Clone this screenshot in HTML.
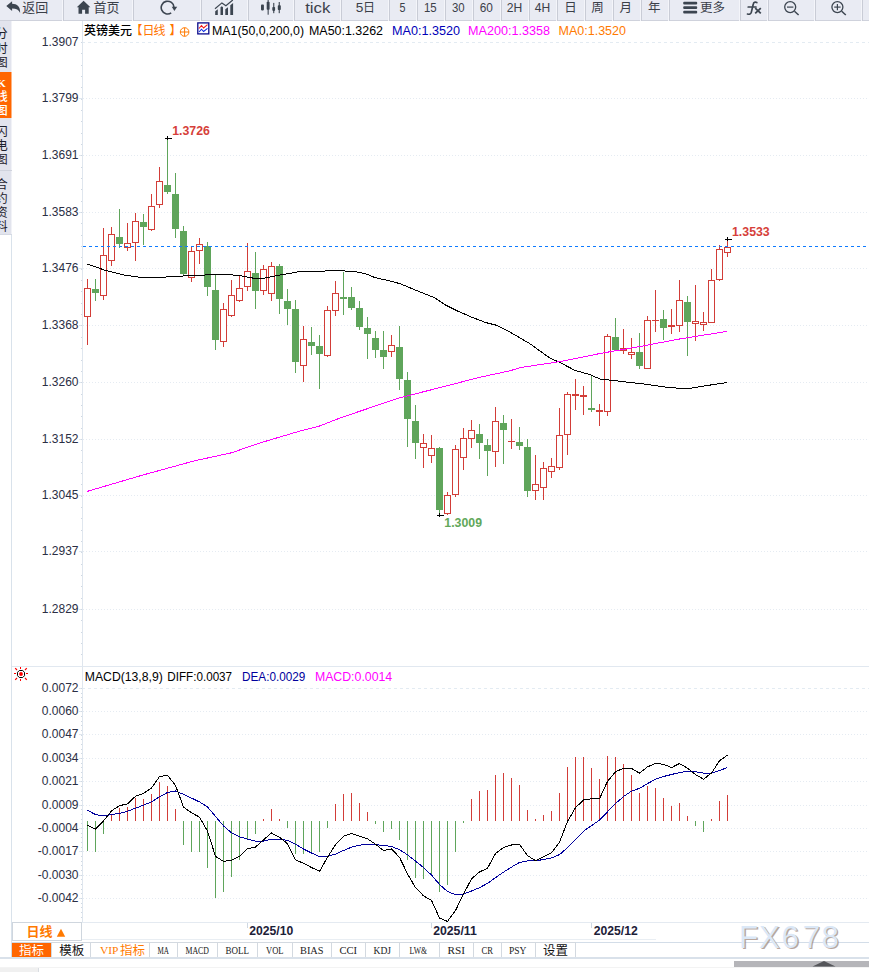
<!DOCTYPE html>
<html lang="zh"><head><meta charset="utf-8"><title>GBPUSD</title>
<style>
html,body{margin:0;padding:0;background:#fff;}
body{width:869px;height:972px;overflow:hidden;font-family:"Liberation Sans",sans-serif;}
svg{display:block;}
text{white-space:pre;}
</style></head><body>
<svg width="869" height="972" viewBox="0 0 869 972">
<rect x="0" y="0" width="869" height="972" fill="#fff"/>
<rect x="0" y="0" width="869" height="21" fill="#e9ebf3"/>
<rect x="0" y="20" width="869" height="1" fill="#cfd2dc"/>
<rect x="62" y="0" width="1" height="21" fill="#f4f5fa"/>
<rect x="63" y="0" width="1" height="21" fill="#c9ccd6"/>
<rect x="132" y="0" width="1" height="21" fill="#f4f5fa"/>
<rect x="133" y="0" width="1" height="21" fill="#c9ccd6"/>
<rect x="200" y="0" width="1" height="21" fill="#f4f5fa"/>
<rect x="201" y="0" width="1" height="21" fill="#c9ccd6"/>
<rect x="247" y="0" width="1" height="21" fill="#f4f5fa"/>
<rect x="248" y="0" width="1" height="21" fill="#c9ccd6"/>
<rect x="293" y="0" width="1" height="21" fill="#f4f5fa"/>
<rect x="294" y="0" width="1" height="21" fill="#c9ccd6"/>
<rect x="340" y="0" width="1" height="21" fill="#f4f5fa"/>
<rect x="341" y="0" width="1" height="21" fill="#c9ccd6"/>
<rect x="388" y="0" width="1" height="21" fill="#f4f5fa"/>
<rect x="389" y="0" width="1" height="21" fill="#c9ccd6"/>
<rect x="416" y="0" width="1" height="21" fill="#f4f5fa"/>
<rect x="417" y="0" width="1" height="21" fill="#c9ccd6"/>
<rect x="444" y="0" width="1" height="21" fill="#f4f5fa"/>
<rect x="445" y="0" width="1" height="21" fill="#c9ccd6"/>
<rect x="472" y="0" width="1" height="21" fill="#f4f5fa"/>
<rect x="473" y="0" width="1" height="21" fill="#c9ccd6"/>
<rect x="500" y="0" width="1" height="21" fill="#f4f5fa"/>
<rect x="501" y="0" width="1" height="21" fill="#c9ccd6"/>
<rect x="528" y="0" width="1" height="21" fill="#f4f5fa"/>
<rect x="529" y="0" width="1" height="21" fill="#c9ccd6"/>
<rect x="556" y="0" width="1" height="21" fill="#f4f5fa"/>
<rect x="557" y="0" width="1" height="21" fill="#c9ccd6"/>
<rect x="584" y="0" width="1" height="21" fill="#f4f5fa"/>
<rect x="585" y="0" width="1" height="21" fill="#c9ccd6"/>
<rect x="612" y="0" width="1" height="21" fill="#f4f5fa"/>
<rect x="613" y="0" width="1" height="21" fill="#c9ccd6"/>
<rect x="640" y="0" width="1" height="21" fill="#f4f5fa"/>
<rect x="641" y="0" width="1" height="21" fill="#c9ccd6"/>
<rect x="668" y="0" width="1" height="21" fill="#f4f5fa"/>
<rect x="669" y="0" width="1" height="21" fill="#c9ccd6"/>
<rect x="739" y="0" width="1" height="21" fill="#f4f5fa"/>
<rect x="740" y="0" width="1" height="21" fill="#c9ccd6"/>
<rect x="767" y="0" width="1" height="21" fill="#f4f5fa"/>
<rect x="768" y="0" width="1" height="21" fill="#c9ccd6"/>
<rect x="814" y="0" width="1" height="21" fill="#f4f5fa"/>
<rect x="815" y="0" width="1" height="21" fill="#c9ccd6"/>
<rect x="861" y="0" width="1" height="21" fill="#f4f5fa"/>
<rect x="862" y="0" width="1" height="21" fill="#c9ccd6"/>
<path transform="translate(6.3 1.2)" d="M0,4.9 L5.8,0 L5.8,2.6 C10.8,2.6 14.2,5.5 13.8,11.7 C12.6,8.6 10,7.2 5.8,7.2 L5.8,9.7 Z" fill="#3c4550"/>
<text x="22.20" y="12.14" font-family="'Liberation Sans', 'Noto Sans CJK SC', sans-serif" font-size="13" fill="#3b4049" text-anchor="start">返回</text>
<path d="M83.6,0.8 L90.4,7.2 L88.7,7.2 L88.7,13.7 L85.1,13.7 L85.1,9.8 L82.1,9.8 L82.1,13.7 L78.5,13.7 L78.5,7.2 L76.8,7.2 Z" fill="#3c4550"/>
<text x="93.60" y="12.14" font-family="'Liberation Sans', 'Noto Sans CJK SC', sans-serif" font-size="13" fill="#3b4049" text-anchor="start">首页</text>
<path d="M174.0,7.2 A6.4,6.4 0 1 0 171.2,12.9" fill="none" stroke="#3c4550" stroke-width="1.6"/>
<path d="M171.7,6.8 L177.2,6.8 L174.4,11 Z" fill="#3c4550"/>
<path d="M215.2,15 V11.2 L217.8,9.2 V15 Z M220.5,15 V7.2 L221.8,6.2 L223,7.2 V15 Z M225.3,15 V9.2 L228,7.2 V15 Z M230.3,15 V5.2 L233.1,3 V15 Z" fill="#3c4550"/>
<path d="M215,8.7 L221.9,2.9 L225.9,5.8 L232.8,0" fill="none" stroke="#3c4550" stroke-width="1.2"/>
<g fill="#3c4550"><rect x="261" y="4.6" width="2.9" height="5.8" rx="0.8"/><rect x="266.7" y="1.7" width="2.9" height="8.1" rx="0.8"/><rect x="267.6" y="0" width="1.1" height="14.7"/><rect x="272.3" y="6.9" width="2.8" height="4" rx="0.8"/><rect x="273.2" y="2.9" width="1.1" height="10.3"/><rect x="277.8" y="5.2" width="3" height="4.9" rx="0.8"/><rect x="278.7" y="2" width="1.1" height="11.2"/></g>
<text x="305.20" y="12.60" font-family="'Liberation Sans', sans-serif" font-size="14.5" fill="#3b4049" text-anchor="start" font-weight="normal" textLength="25.3" lengthAdjust="spacingAndGlyphs" >tick</text>
<text x="355.80" y="12.20" font-family="'Liberation Sans', sans-serif" font-size="13" fill="#3b4049" text-anchor="start" font-weight="normal" textLength="7.6" lengthAdjust="spacingAndGlyphs" >5</text>
<text x="363.00" y="11.76" font-family="'Liberation Sans', 'Noto Sans CJK SC', sans-serif" font-size="12" fill="#3b4049" text-anchor="start">日</text>
<text x="399.40" y="12.20" font-family="'Liberation Sans', sans-serif" font-size="13" fill="#3b4049" text-anchor="start" font-weight="normal" textLength="6.0" lengthAdjust="spacingAndGlyphs" >5</text>
<text x="424.00" y="12.20" font-family="'Liberation Sans', sans-serif" font-size="13" fill="#3b4049" text-anchor="start" font-weight="normal" textLength="12.7" lengthAdjust="spacingAndGlyphs" >15</text>
<text x="451.90" y="12.20" font-family="'Liberation Sans', sans-serif" font-size="13" fill="#3b4049" text-anchor="start" font-weight="normal" textLength="12.7" lengthAdjust="spacingAndGlyphs" >30</text>
<text x="479.70" y="12.20" font-family="'Liberation Sans', sans-serif" font-size="13" fill="#3b4049" text-anchor="start" font-weight="normal" textLength="13.2" lengthAdjust="spacingAndGlyphs" >60</text>
<text x="506.80" y="12.20" font-family="'Liberation Sans', sans-serif" font-size="13" fill="#3b4049" text-anchor="start" font-weight="normal" textLength="15.5" lengthAdjust="spacingAndGlyphs" >2H</text>
<text x="534.70" y="12.20" font-family="'Liberation Sans', sans-serif" font-size="13" fill="#3b4049" text-anchor="start" font-weight="normal" textLength="15.4" lengthAdjust="spacingAndGlyphs" >4H</text>
<text x="564.20" y="12.20" font-family="'Liberation Sans', 'Noto Sans CJK SC', sans-serif" font-size="12.5" fill="#3b4049" text-anchor="start">日</text>
<text x="591.20" y="12.20" font-family="'Liberation Sans', 'Noto Sans CJK SC', sans-serif" font-size="12.5" fill="#3b4049" text-anchor="start">周</text>
<text x="619.60" y="12.20" font-family="'Liberation Sans', 'Noto Sans CJK SC', sans-serif" font-size="12.5" fill="#3b4049" text-anchor="start">月</text>
<text x="648.00" y="12.20" font-family="'Liberation Sans', 'Noto Sans CJK SC', sans-serif" font-size="12.5" fill="#3b4049" text-anchor="start">年</text>
<g fill="#3c4550"><rect x="683.2" y="1.7" width="14" height="2.7" rx="1"/><rect x="683.2" y="6.2" width="14" height="2.7" rx="1"/><rect x="683.2" y="10.7" width="14" height="2.7" rx="1"/></g>
<text x="700.00" y="12.00" font-family="'Liberation Sans', 'Noto Sans CJK SC', sans-serif" font-size="12.5" fill="#3b4049" text-anchor="start">更多</text>
<path d="M756.8,2.5 C755.2,1.7 753.7,2.1 753.3,4 L751.3,12.4 C750.9,14 749.5,14.6 747.5,14 M748.2,7 H756" stroke="#3c4550" stroke-width="1.7" fill="none" stroke-linecap="round"/>
<path d="M755.2,8.2 L760.8,13.3 M760.8,8.2 L755.2,13.3" stroke="#3c4550" stroke-width="1.8" fill="none"/>
<circle cx="790.2" cy="7.1" r="5.5" fill="none" stroke="#3c4550" stroke-width="1.3"/>
<path d="M794.5,11.3 L798.6,15" stroke="#3c4550" stroke-width="1.5" fill="none"/>
<path d="M787.0,7.1 H793.4" stroke="#3c4550" stroke-width="1.2" fill="none"/>
<circle cx="837.4" cy="7.1" r="5.5" fill="none" stroke="#3c4550" stroke-width="1.3"/>
<path d="M841.7,11.3 L845.8,15" stroke="#3c4550" stroke-width="1.5" fill="none"/>
<path d="M834.2,7.1 H840.6" stroke="#3c4550" stroke-width="1.2" fill="none"/>
<path d="M837.4,3.9 V10.3" stroke="#3c4550" stroke-width="1.2" fill="none"/>
<rect x="0" y="21" width="11" height="214" fill="#e2e4ed"/><rect x="11" y="21" width="1" height="214" fill="#f1f2f7"/>
<rect x="0" y="72" width="11" height="46" fill="#ff6600"/><rect x="11" y="72" width="1" height="46" fill="#ffb380"/>
<rect x="0" y="170" width="12" height="1" fill="#d0d3dd"/>
<rect x="0" y="234" width="12" height="1" fill="#d5d9e3"/>
<clipPath id="sbc"><rect x="0" y="21" width="12" height="214"/></clipPath>
<g fill="#1e222c" clip-path="url(#sbc)" font-family="'Liberation Sans', 'Noto Sans CJK SC', sans-serif" font-size="12.5"><text x="-4.80" y="38.00">分</text><text x="-4.80" y="52.60">时</text><text x="-4.80" y="67.20">图</text></g>
<text x="-2.80" y="87.00" font-family="'Liberation Serif', sans-serif" font-size="11" fill="#fff" text-anchor="start" font-weight="bold" clip-path="url(#sbc)">K</text>
<g fill="#fff" clip-path="url(#sbc)" font-family="'Liberation Sans', 'Noto Sans CJK SC', sans-serif" font-size="12.5" font-weight="500"><text x="-4.80" y="101.00">线</text><text x="-4.80" y="114.50">图</text></g>
<g fill="#1e222c" clip-path="url(#sbc)" font-family="'Liberation Sans', 'Noto Sans CJK SC', sans-serif" font-size="12.5"><text x="-4.80" y="136.00">闪</text><text x="-4.80" y="150.20">电</text><text x="-4.80" y="164.40">图</text></g>
<g fill="#1e222c" clip-path="url(#sbc)" font-family="'Liberation Sans', 'Noto Sans CJK SC', sans-serif" font-size="12.5"><text x="-4.80" y="188.50">合</text><text x="-4.80" y="202.50">约</text><text x="-4.80" y="216.50">资</text><text x="-4.80" y="230.50">料</text></g>
<g shape-rendering="crispEdges">
<rect x="11" y="235" width="1" height="723" fill="#d9e2eb"/>
<rect x="82" y="21" width="1" height="902" fill="#dfe6ee"/>
<rect x="12" y="666" width="857" height="1" fill="#e1e8f0"/>
<rect x="12" y="922" width="857" height="1" fill="#e4eaf1"/>
<rect x="82" y="942" width="787" height="1" fill="#d3dde8"/>
<rect x="82" y="939" width="574" height="1" fill="#e9eef3"/>
<rect x="0" y="957" width="869" height="2" fill="#d9e1ea"/>
<rect x="0" y="967" width="869" height="1" fill="#dde3ea"/>
</g>
<g shape-rendering="crispEdges" fill="none">
<path d="M83,42.5 H869" stroke="#e3ebf2" stroke-dasharray="3 3" stroke-dashoffset="1"/>
<path d="M83,98.5 H867" stroke="#e5ebf2" stroke-dasharray="1 2"/>
<path d="M79,98.5 H82" stroke="#dfe6ee"/>
<path d="M83,155.5 H867" stroke="#e5ebf2" stroke-dasharray="1 2"/>
<path d="M79,155.5 H82" stroke="#dfe6ee"/>
<path d="M83,212.5 H867" stroke="#e5ebf2" stroke-dasharray="1 2"/>
<path d="M79,212.5 H82" stroke="#dfe6ee"/>
<path d="M83,268.5 H867" stroke="#e5ebf2" stroke-dasharray="1 2"/>
<path d="M79,268.5 H82" stroke="#dfe6ee"/>
<path d="M83,325.5 H867" stroke="#e5ebf2" stroke-dasharray="1 2"/>
<path d="M79,325.5 H82" stroke="#dfe6ee"/>
<path d="M83,382.5 H867" stroke="#e5ebf2" stroke-dasharray="1 2"/>
<path d="M79,382.5 H82" stroke="#dfe6ee"/>
<path d="M83,439.5 H867" stroke="#e5ebf2" stroke-dasharray="1 2"/>
<path d="M79,439.5 H82" stroke="#dfe6ee"/>
<path d="M83,495.5 H867" stroke="#e5ebf2" stroke-dasharray="1 2"/>
<path d="M79,495.5 H82" stroke="#dfe6ee"/>
<path d="M83,551.5 H867" stroke="#e5ebf2" stroke-dasharray="1 2"/>
<path d="M79,551.5 H82" stroke="#dfe6ee"/>
<path d="M83,609.5 H867" stroke="#e5ebf2" stroke-dasharray="1 2"/>
<path d="M79,609.5 H82" stroke="#dfe6ee"/>
<rect x="81" y="42" width="1" height="1" fill="#cfd8e2"/>
<rect x="81" y="53" width="1" height="1" fill="#cfd8e2"/>
<rect x="81" y="65" width="1" height="1" fill="#cfd8e2"/>
<rect x="81" y="76" width="1" height="1" fill="#cfd8e2"/>
<rect x="81" y="87" width="1" height="1" fill="#cfd8e2"/>
<rect x="81" y="99" width="1" height="1" fill="#cfd8e2"/>
<rect x="81" y="110" width="1" height="1" fill="#cfd8e2"/>
<rect x="81" y="121" width="1" height="1" fill="#cfd8e2"/>
<rect x="81" y="133" width="1" height="1" fill="#cfd8e2"/>
<rect x="81" y="144" width="1" height="1" fill="#cfd8e2"/>
<rect x="81" y="155" width="1" height="1" fill="#cfd8e2"/>
<rect x="81" y="167" width="1" height="1" fill="#cfd8e2"/>
<rect x="81" y="178" width="1" height="1" fill="#cfd8e2"/>
<rect x="81" y="189" width="1" height="1" fill="#cfd8e2"/>
<rect x="81" y="201" width="1" height="1" fill="#cfd8e2"/>
<rect x="81" y="212" width="1" height="1" fill="#cfd8e2"/>
<rect x="81" y="223" width="1" height="1" fill="#cfd8e2"/>
<rect x="81" y="235" width="1" height="1" fill="#cfd8e2"/>
<rect x="81" y="246" width="1" height="1" fill="#cfd8e2"/>
<rect x="81" y="257" width="1" height="1" fill="#cfd8e2"/>
<rect x="81" y="269" width="1" height="1" fill="#cfd8e2"/>
<rect x="81" y="280" width="1" height="1" fill="#cfd8e2"/>
<rect x="81" y="291" width="1" height="1" fill="#cfd8e2"/>
<rect x="81" y="303" width="1" height="1" fill="#cfd8e2"/>
<rect x="81" y="314" width="1" height="1" fill="#cfd8e2"/>
<rect x="81" y="325" width="1" height="1" fill="#cfd8e2"/>
<rect x="81" y="337" width="1" height="1" fill="#cfd8e2"/>
<rect x="81" y="348" width="1" height="1" fill="#cfd8e2"/>
<rect x="81" y="360" width="1" height="1" fill="#cfd8e2"/>
<rect x="81" y="371" width="1" height="1" fill="#cfd8e2"/>
<rect x="81" y="382" width="1" height="1" fill="#cfd8e2"/>
<rect x="81" y="394" width="1" height="1" fill="#cfd8e2"/>
<rect x="81" y="405" width="1" height="1" fill="#cfd8e2"/>
<rect x="81" y="416" width="1" height="1" fill="#cfd8e2"/>
<rect x="81" y="428" width="1" height="1" fill="#cfd8e2"/>
<rect x="81" y="439" width="1" height="1" fill="#cfd8e2"/>
<rect x="81" y="450" width="1" height="1" fill="#cfd8e2"/>
<rect x="81" y="462" width="1" height="1" fill="#cfd8e2"/>
<rect x="81" y="473" width="1" height="1" fill="#cfd8e2"/>
<rect x="81" y="484" width="1" height="1" fill="#cfd8e2"/>
<rect x="81" y="496" width="1" height="1" fill="#cfd8e2"/>
<rect x="81" y="507" width="1" height="1" fill="#cfd8e2"/>
<rect x="81" y="518" width="1" height="1" fill="#cfd8e2"/>
<rect x="81" y="530" width="1" height="1" fill="#cfd8e2"/>
<rect x="81" y="541" width="1" height="1" fill="#cfd8e2"/>
<rect x="81" y="552" width="1" height="1" fill="#cfd8e2"/>
<rect x="81" y="564" width="1" height="1" fill="#cfd8e2"/>
<rect x="81" y="575" width="1" height="1" fill="#cfd8e2"/>
<rect x="81" y="586" width="1" height="1" fill="#cfd8e2"/>
<rect x="81" y="598" width="1" height="1" fill="#cfd8e2"/>
<rect x="81" y="609" width="1" height="1" fill="#cfd8e2"/>
<rect x="81" y="620" width="1" height="1" fill="#cfd8e2"/>
<rect x="81" y="632" width="1" height="1" fill="#cfd8e2"/>
<rect x="81" y="643" width="1" height="1" fill="#cfd8e2"/>
<rect x="81" y="654" width="1" height="1" fill="#cfd8e2"/>
</g>
<text x="78.50" y="45.90" font-family="'Liberation Sans', sans-serif" font-size="12" fill="#2a2e44" text-anchor="end" font-weight="normal" >1.3907</text>
<text x="78.50" y="101.90" font-family="'Liberation Sans', sans-serif" font-size="12" fill="#2a2e44" text-anchor="end" font-weight="normal" >1.3799</text>
<text x="78.50" y="158.90" font-family="'Liberation Sans', sans-serif" font-size="12" fill="#2a2e44" text-anchor="end" font-weight="normal" >1.3691</text>
<text x="78.50" y="215.90" font-family="'Liberation Sans', sans-serif" font-size="12" fill="#2a2e44" text-anchor="end" font-weight="normal" >1.3583</text>
<text x="78.50" y="271.90" font-family="'Liberation Sans', sans-serif" font-size="12" fill="#2a2e44" text-anchor="end" font-weight="normal" >1.3476</text>
<text x="78.50" y="328.90" font-family="'Liberation Sans', sans-serif" font-size="12" fill="#2a2e44" text-anchor="end" font-weight="normal" >1.3368</text>
<text x="78.50" y="385.90" font-family="'Liberation Sans', sans-serif" font-size="12" fill="#2a2e44" text-anchor="end" font-weight="normal" >1.3260</text>
<text x="78.50" y="442.90" font-family="'Liberation Sans', sans-serif" font-size="12" fill="#2a2e44" text-anchor="end" font-weight="normal" >1.3152</text>
<text x="78.50" y="498.90" font-family="'Liberation Sans', sans-serif" font-size="12" fill="#2a2e44" text-anchor="end" font-weight="normal" >1.3045</text>
<text x="78.50" y="554.90" font-family="'Liberation Sans', sans-serif" font-size="12" fill="#2a2e44" text-anchor="end" font-weight="normal" >1.2937</text>
<text x="78.50" y="612.90" font-family="'Liberation Sans', sans-serif" font-size="12" fill="#2a2e44" text-anchor="end" font-weight="normal" >1.2829</text>
<g shape-rendering="crispEdges" fill="none">
<path d="M83,688.5 H869" stroke="#e3ebf2" stroke-dasharray="3 3" stroke-dashoffset="1"/>
<path d="M79,688.5 H82" stroke="#dfe6ee"/>
<path d="M83,711.5 H867" stroke="#e5ebf2" stroke-dasharray="1 2"/>
<path d="M79,711.5 H82" stroke="#dfe6ee"/>
<path d="M83,734.5 H867" stroke="#e5ebf2" stroke-dasharray="1 2"/>
<path d="M79,734.5 H82" stroke="#dfe6ee"/>
<path d="M83,758.5 H867" stroke="#e5ebf2" stroke-dasharray="1 2"/>
<path d="M79,758.5 H82" stroke="#dfe6ee"/>
<path d="M83,781.5 H867" stroke="#e5ebf2" stroke-dasharray="1 2"/>
<path d="M79,781.5 H82" stroke="#dfe6ee"/>
<path d="M83,805.5 H867" stroke="#e5ebf2" stroke-dasharray="1 2"/>
<path d="M79,805.5 H82" stroke="#dfe6ee"/>
<path d="M83,828.5 H867" stroke="#e5ebf2" stroke-dasharray="1 2"/>
<path d="M79,828.5 H82" stroke="#dfe6ee"/>
<path d="M83,851.5 H867" stroke="#e5ebf2" stroke-dasharray="1 2"/>
<path d="M79,851.5 H82" stroke="#dfe6ee"/>
<path d="M83,875.5 H867" stroke="#e5ebf2" stroke-dasharray="1 2"/>
<path d="M79,875.5 H82" stroke="#dfe6ee"/>
<path d="M83,898.5 H867" stroke="#e5ebf2" stroke-dasharray="1 2"/>
<path d="M79,898.5 H82" stroke="#dfe6ee"/>
<rect x="81" y="688" width="1" height="1" fill="#cfd8e2"/>
<rect x="81" y="693" width="1" height="1" fill="#cfd8e2"/>
<rect x="81" y="697" width="1" height="1" fill="#cfd8e2"/>
<rect x="81" y="702" width="1" height="1" fill="#cfd8e2"/>
<rect x="81" y="707" width="1" height="1" fill="#cfd8e2"/>
<rect x="81" y="711" width="1" height="1" fill="#cfd8e2"/>
<rect x="81" y="716" width="1" height="1" fill="#cfd8e2"/>
<rect x="81" y="721" width="1" height="1" fill="#cfd8e2"/>
<rect x="81" y="725" width="1" height="1" fill="#cfd8e2"/>
<rect x="81" y="730" width="1" height="1" fill="#cfd8e2"/>
<rect x="81" y="735" width="1" height="1" fill="#cfd8e2"/>
<rect x="81" y="739" width="1" height="1" fill="#cfd8e2"/>
<rect x="81" y="744" width="1" height="1" fill="#cfd8e2"/>
<rect x="81" y="749" width="1" height="1" fill="#cfd8e2"/>
<rect x="81" y="753" width="1" height="1" fill="#cfd8e2"/>
<rect x="81" y="758" width="1" height="1" fill="#cfd8e2"/>
<rect x="81" y="763" width="1" height="1" fill="#cfd8e2"/>
<rect x="81" y="767" width="1" height="1" fill="#cfd8e2"/>
<rect x="81" y="772" width="1" height="1" fill="#cfd8e2"/>
<rect x="81" y="777" width="1" height="1" fill="#cfd8e2"/>
<rect x="81" y="781" width="1" height="1" fill="#cfd8e2"/>
<rect x="81" y="786" width="1" height="1" fill="#cfd8e2"/>
<rect x="81" y="791" width="1" height="1" fill="#cfd8e2"/>
<rect x="81" y="795" width="1" height="1" fill="#cfd8e2"/>
<rect x="81" y="800" width="1" height="1" fill="#cfd8e2"/>
<rect x="81" y="805" width="1" height="1" fill="#cfd8e2"/>
<rect x="81" y="809" width="1" height="1" fill="#cfd8e2"/>
<rect x="81" y="814" width="1" height="1" fill="#cfd8e2"/>
<rect x="81" y="819" width="1" height="1" fill="#cfd8e2"/>
<rect x="81" y="823" width="1" height="1" fill="#cfd8e2"/>
<rect x="81" y="828" width="1" height="1" fill="#cfd8e2"/>
<rect x="81" y="833" width="1" height="1" fill="#cfd8e2"/>
<rect x="81" y="837" width="1" height="1" fill="#cfd8e2"/>
<rect x="81" y="842" width="1" height="1" fill="#cfd8e2"/>
<rect x="81" y="847" width="1" height="1" fill="#cfd8e2"/>
<rect x="81" y="851" width="1" height="1" fill="#cfd8e2"/>
<rect x="81" y="856" width="1" height="1" fill="#cfd8e2"/>
<rect x="81" y="861" width="1" height="1" fill="#cfd8e2"/>
<rect x="81" y="865" width="1" height="1" fill="#cfd8e2"/>
<rect x="81" y="870" width="1" height="1" fill="#cfd8e2"/>
<rect x="81" y="875" width="1" height="1" fill="#cfd8e2"/>
<rect x="81" y="879" width="1" height="1" fill="#cfd8e2"/>
<rect x="81" y="884" width="1" height="1" fill="#cfd8e2"/>
<rect x="81" y="889" width="1" height="1" fill="#cfd8e2"/>
<rect x="81" y="893" width="1" height="1" fill="#cfd8e2"/>
<rect x="81" y="898" width="1" height="1" fill="#cfd8e2"/>
<rect x="81" y="903" width="1" height="1" fill="#cfd8e2"/>
<rect x="81" y="907" width="1" height="1" fill="#cfd8e2"/>
<rect x="81" y="912" width="1" height="1" fill="#cfd8e2"/>
<rect x="81" y="917" width="1" height="1" fill="#cfd8e2"/>
</g>
<text x="78.50" y="691.90" font-family="'Liberation Sans', sans-serif" font-size="12" fill="#2a2e44" text-anchor="end" font-weight="normal" >0.0072</text>
<text x="78.50" y="714.90" font-family="'Liberation Sans', sans-serif" font-size="12" fill="#2a2e44" text-anchor="end" font-weight="normal" >0.0060</text>
<text x="78.50" y="737.90" font-family="'Liberation Sans', sans-serif" font-size="12" fill="#2a2e44" text-anchor="end" font-weight="normal" >0.0047</text>
<text x="78.50" y="761.90" font-family="'Liberation Sans', sans-serif" font-size="12" fill="#2a2e44" text-anchor="end" font-weight="normal" >0.0034</text>
<text x="78.50" y="784.90" font-family="'Liberation Sans', sans-serif" font-size="12" fill="#2a2e44" text-anchor="end" font-weight="normal" >0.0021</text>
<text x="78.50" y="808.90" font-family="'Liberation Sans', sans-serif" font-size="12" fill="#2a2e44" text-anchor="end" font-weight="normal" >0.0009</text>
<text x="78.50" y="831.90" font-family="'Liberation Sans', sans-serif" font-size="12" fill="#2a2e44" text-anchor="end" font-weight="normal" >-0.0004</text>
<text x="78.50" y="854.90" font-family="'Liberation Sans', sans-serif" font-size="12" fill="#2a2e44" text-anchor="end" font-weight="normal" >-0.0017</text>
<text x="78.50" y="878.90" font-family="'Liberation Sans', sans-serif" font-size="12" fill="#2a2e44" text-anchor="end" font-weight="normal" >-0.0030</text>
<text x="78.50" y="901.90" font-family="'Liberation Sans', sans-serif" font-size="12" fill="#2a2e44" text-anchor="end" font-weight="normal" >-0.0042</text>
<g shape-rendering="crispEdges">
<rect x="87" y="279" width="1" height="9" fill="#d23d38"/>
<rect x="87" y="317" width="1" height="28" fill="#d23d38"/>
<rect x="84.5" y="288.5" width="6" height="28" fill="#fff" stroke="#d23d38" stroke-width="1"/>
<rect x="95" y="279" width="1" height="22" fill="#5fa55b"/>
<rect x="92" y="289" width="7" height="4" fill="#5fa55b"/>
<rect x="103" y="228" width="1" height="27" fill="#d23d38"/>
<rect x="103" y="296" width="1" height="4" fill="#d23d38"/>
<rect x="100.5" y="255.5" width="6" height="40" fill="#fff" stroke="#d23d38" stroke-width="1"/>
<rect x="111" y="227" width="1" height="7" fill="#d23d38"/>
<rect x="111" y="261" width="1" height="5" fill="#d23d38"/>
<rect x="108.5" y="234.5" width="6" height="26" fill="#fff" stroke="#d23d38" stroke-width="1"/>
<rect x="119" y="209" width="1" height="39" fill="#5fa55b"/>
<rect x="116" y="237" width="7" height="7" fill="#5fa55b"/>
<rect x="127" y="223" width="1" height="20" fill="#d23d38"/>
<rect x="127" y="248" width="1" height="3" fill="#d23d38"/>
<rect x="124.5" y="243.5" width="6" height="4" fill="#fff" stroke="#d23d38" stroke-width="1"/>
<rect x="135" y="213" width="1" height="8" fill="#d23d38"/>
<rect x="135" y="243" width="1" height="18" fill="#d23d38"/>
<rect x="132.5" y="221.5" width="6" height="21" fill="#fff" stroke="#d23d38" stroke-width="1"/>
<rect x="143" y="214" width="1" height="31" fill="#5fa55b"/>
<rect x="140" y="222" width="7" height="5" fill="#5fa55b"/>
<rect x="151" y="194" width="1" height="12" fill="#d23d38"/>
<rect x="151" y="230" width="1" height="1" fill="#d23d38"/>
<rect x="148.5" y="206.5" width="6" height="23" fill="#fff" stroke="#d23d38" stroke-width="1"/>
<rect x="159" y="167" width="1" height="14" fill="#d23d38"/>
<rect x="159" y="205" width="1" height="3" fill="#d23d38"/>
<rect x="156.5" y="181.5" width="6" height="23" fill="#fff" stroke="#d23d38" stroke-width="1"/>
<rect x="167" y="138" width="1" height="56" fill="#5fa55b"/>
<rect x="164" y="185" width="7" height="7" fill="#5fa55b"/>
<rect x="175" y="173" width="1" height="65" fill="#5fa55b"/>
<rect x="172" y="194" width="7" height="35" fill="#5fa55b"/>
<rect x="183" y="226" width="1" height="50" fill="#5fa55b"/>
<rect x="180" y="231" width="7" height="43" fill="#5fa55b"/>
<rect x="191" y="247" width="1" height="4" fill="#d23d38"/>
<rect x="191" y="278" width="1" height="4" fill="#d23d38"/>
<rect x="188.5" y="251.5" width="6" height="26" fill="#fff" stroke="#d23d38" stroke-width="1"/>
<rect x="199" y="238" width="1" height="6" fill="#d23d38"/>
<rect x="199" y="251" width="1" height="13" fill="#d23d38"/>
<rect x="196.5" y="244.5" width="6" height="6" fill="#fff" stroke="#d23d38" stroke-width="1"/>
<rect x="207" y="242" width="1" height="54" fill="#5fa55b"/>
<rect x="204" y="246" width="7" height="41" fill="#5fa55b"/>
<rect x="215" y="275" width="1" height="75" fill="#5fa55b"/>
<rect x="212" y="290" width="7" height="50" fill="#5fa55b"/>
<rect x="223" y="303" width="1" height="6" fill="#d23d38"/>
<rect x="223" y="342" width="1" height="5" fill="#d23d38"/>
<rect x="220.5" y="309.5" width="6" height="32" fill="#fff" stroke="#d23d38" stroke-width="1"/>
<rect x="231" y="280" width="1" height="15" fill="#d23d38"/>
<rect x="231" y="316" width="1" height="1" fill="#d23d38"/>
<rect x="228.5" y="295.5" width="6" height="20" fill="#fff" stroke="#d23d38" stroke-width="1"/>
<rect x="239" y="276" width="1" height="12" fill="#d23d38"/>
<rect x="239" y="301" width="1" height="1" fill="#d23d38"/>
<rect x="236.5" y="288.5" width="6" height="12" fill="#fff" stroke="#d23d38" stroke-width="1"/>
<rect x="247" y="243" width="1" height="28" fill="#d23d38"/>
<rect x="247" y="287" width="1" height="4" fill="#d23d38"/>
<rect x="244.5" y="271.5" width="6" height="15" fill="#fff" stroke="#d23d38" stroke-width="1"/>
<rect x="255" y="252" width="1" height="57" fill="#5fa55b"/>
<rect x="252" y="273" width="7" height="18" fill="#5fa55b"/>
<rect x="263" y="265" width="1" height="4" fill="#d23d38"/>
<rect x="263" y="291" width="1" height="4" fill="#d23d38"/>
<rect x="260.5" y="269.5" width="6" height="21" fill="#fff" stroke="#d23d38" stroke-width="1"/>
<rect x="271" y="262" width="1" height="4" fill="#d23d38"/>
<rect x="271" y="294" width="1" height="7" fill="#d23d38"/>
<rect x="268.5" y="266.5" width="6" height="27" fill="#fff" stroke="#d23d38" stroke-width="1"/>
<rect x="279" y="264" width="1" height="50" fill="#5fa55b"/>
<rect x="276" y="266" width="7" height="33" fill="#5fa55b"/>
<rect x="287" y="289" width="1" height="36" fill="#5fa55b"/>
<rect x="284" y="301" width="7" height="8" fill="#5fa55b"/>
<rect x="295" y="300" width="1" height="73" fill="#5fa55b"/>
<rect x="292" y="309" width="7" height="53" fill="#5fa55b"/>
<rect x="303" y="326" width="1" height="13" fill="#d23d38"/>
<rect x="303" y="366" width="1" height="16" fill="#d23d38"/>
<rect x="300.5" y="339.5" width="6" height="26" fill="#fff" stroke="#d23d38" stroke-width="1"/>
<rect x="311" y="327" width="1" height="28" fill="#5fa55b"/>
<rect x="308" y="342" width="7" height="4" fill="#5fa55b"/>
<rect x="319" y="335" width="1" height="54" fill="#5fa55b"/>
<rect x="316" y="346" width="7" height="8" fill="#5fa55b"/>
<rect x="327" y="306" width="1" height="4" fill="#d23d38"/>
<rect x="327" y="356" width="1" height="1" fill="#d23d38"/>
<rect x="324.5" y="310.5" width="6" height="45" fill="#fff" stroke="#d23d38" stroke-width="1"/>
<rect x="335" y="281" width="1" height="12" fill="#d23d38"/>
<rect x="335" y="311" width="1" height="5" fill="#d23d38"/>
<rect x="332.5" y="293.5" width="6" height="17" fill="#fff" stroke="#d23d38" stroke-width="1"/>
<rect x="343" y="272" width="1" height="43" fill="#5fa55b"/>
<rect x="340" y="297" width="7" height="2" fill="#5fa55b"/>
<rect x="351" y="287" width="1" height="23" fill="#5fa55b"/>
<rect x="348" y="297" width="7" height="11" fill="#5fa55b"/>
<rect x="359" y="301" width="1" height="29" fill="#5fa55b"/>
<rect x="356" y="308" width="7" height="19" fill="#5fa55b"/>
<rect x="367" y="317" width="1" height="42" fill="#5fa55b"/>
<rect x="364" y="328" width="7" height="6" fill="#5fa55b"/>
<rect x="375" y="331" width="1" height="27" fill="#5fa55b"/>
<rect x="372" y="338" width="7" height="12" fill="#5fa55b"/>
<rect x="383" y="331" width="1" height="38" fill="#5fa55b"/>
<rect x="380" y="350" width="7" height="7" fill="#5fa55b"/>
<rect x="391" y="335" width="1" height="10" fill="#d23d38"/>
<rect x="391" y="352" width="1" height="5" fill="#d23d38"/>
<rect x="388.5" y="345.5" width="6" height="6" fill="#fff" stroke="#d23d38" stroke-width="1"/>
<rect x="399" y="326" width="1" height="64" fill="#5fa55b"/>
<rect x="396" y="347" width="7" height="32" fill="#5fa55b"/>
<rect x="407" y="372" width="1" height="75" fill="#5fa55b"/>
<rect x="404" y="380" width="7" height="39" fill="#5fa55b"/>
<rect x="415" y="405" width="1" height="54" fill="#5fa55b"/>
<rect x="412" y="421" width="7" height="22" fill="#5fa55b"/>
<rect x="423" y="434" width="1" height="9" fill="#d23d38"/>
<rect x="423" y="448" width="1" height="20" fill="#d23d38"/>
<rect x="420.5" y="443.5" width="6" height="4" fill="#fff" stroke="#d23d38" stroke-width="1"/>
<rect x="431" y="435" width="1" height="13" fill="#d23d38"/>
<rect x="431" y="456" width="1" height="7" fill="#d23d38"/>
<rect x="428.5" y="448.5" width="6" height="7" fill="#fff" stroke="#d23d38" stroke-width="1"/>
<rect x="439" y="447" width="1" height="67" fill="#5fa55b"/>
<rect x="436" y="448" width="7" height="62" fill="#5fa55b"/>
<rect x="447" y="492" width="1" height="3" fill="#d23d38"/>
<rect x="447" y="514" width="1" height="1" fill="#d23d38"/>
<rect x="444.5" y="495.5" width="6" height="18" fill="#fff" stroke="#d23d38" stroke-width="1"/>
<rect x="455" y="445" width="1" height="4" fill="#d23d38"/>
<rect x="455" y="495" width="1" height="2" fill="#d23d38"/>
<rect x="452.5" y="449.5" width="6" height="45" fill="#fff" stroke="#d23d38" stroke-width="1"/>
<rect x="463" y="428" width="1" height="10" fill="#d23d38"/>
<rect x="463" y="458" width="1" height="12" fill="#d23d38"/>
<rect x="460.5" y="438.5" width="6" height="19" fill="#fff" stroke="#d23d38" stroke-width="1"/>
<rect x="471" y="420" width="1" height="10" fill="#d23d38"/>
<rect x="471" y="439" width="1" height="9" fill="#d23d38"/>
<rect x="468.5" y="430.5" width="6" height="8" fill="#fff" stroke="#d23d38" stroke-width="1"/>
<rect x="479" y="424" width="1" height="35" fill="#5fa55b"/>
<rect x="476" y="434" width="7" height="9" fill="#5fa55b"/>
<rect x="487" y="439" width="1" height="37" fill="#5fa55b"/>
<rect x="484" y="445" width="7" height="6" fill="#5fa55b"/>
<rect x="495" y="407" width="1" height="14" fill="#d23d38"/>
<rect x="495" y="452" width="1" height="15" fill="#d23d38"/>
<rect x="492.5" y="421.5" width="6" height="30" fill="#fff" stroke="#d23d38" stroke-width="1"/>
<rect x="503" y="415" width="1" height="49" fill="#5fa55b"/>
<rect x="500" y="423" width="7" height="7" fill="#5fa55b"/>
<rect x="511" y="419" width="1" height="30" fill="#d23d38"/>
<rect x="508" y="441" width="7" height="1" fill="#d23d38"/>
<rect x="519" y="427" width="1" height="23" fill="#5fa55b"/>
<rect x="516" y="442" width="7" height="4" fill="#5fa55b"/>
<rect x="527" y="439" width="1" height="58" fill="#5fa55b"/>
<rect x="524" y="447" width="7" height="44" fill="#5fa55b"/>
<rect x="535" y="455" width="1" height="29" fill="#d23d38"/>
<rect x="535" y="491" width="1" height="9" fill="#d23d38"/>
<rect x="532.5" y="484.5" width="6" height="6" fill="#fff" stroke="#d23d38" stroke-width="1"/>
<rect x="543" y="462" width="1" height="6" fill="#d23d38"/>
<rect x="543" y="488" width="1" height="12" fill="#d23d38"/>
<rect x="540.5" y="468.5" width="6" height="19" fill="#fff" stroke="#d23d38" stroke-width="1"/>
<rect x="551" y="458" width="1" height="8" fill="#d23d38"/>
<rect x="551" y="472" width="1" height="6" fill="#d23d38"/>
<rect x="548.5" y="466.5" width="6" height="5" fill="#fff" stroke="#d23d38" stroke-width="1"/>
<rect x="559" y="408" width="1" height="27" fill="#d23d38"/>
<rect x="559" y="468" width="1" height="2" fill="#d23d38"/>
<rect x="556.5" y="435.5" width="6" height="32" fill="#fff" stroke="#d23d38" stroke-width="1"/>
<rect x="567" y="392" width="1" height="2" fill="#d23d38"/>
<rect x="567" y="435" width="1" height="20" fill="#d23d38"/>
<rect x="564.5" y="394.5" width="6" height="40" fill="#fff" stroke="#d23d38" stroke-width="1"/>
<rect x="575" y="379" width="1" height="31" fill="#d23d38"/>
<rect x="572" y="394" width="7" height="2" fill="#d23d38"/>
<rect x="583" y="386" width="1" height="29" fill="#d23d38"/>
<rect x="580" y="395" width="7" height="2" fill="#d23d38"/>
<rect x="591" y="376" width="1" height="36" fill="#5fa55b"/>
<rect x="588" y="408" width="7" height="2" fill="#5fa55b"/>
<rect x="599" y="404" width="1" height="22" fill="#d23d38"/>
<rect x="596" y="410" width="7" height="2" fill="#d23d38"/>
<rect x="607" y="334" width="1" height="2" fill="#d23d38"/>
<rect x="607" y="412" width="1" height="4" fill="#d23d38"/>
<rect x="604.5" y="336.5" width="6" height="75" fill="#fff" stroke="#d23d38" stroke-width="1"/>
<rect x="615" y="318" width="1" height="32" fill="#5fa55b"/>
<rect x="612" y="337" width="7" height="13" fill="#5fa55b"/>
<rect x="623" y="329" width="1" height="19" fill="#d23d38"/>
<rect x="623" y="351" width="1" height="3" fill="#d23d38"/>
<rect x="620.5" y="348.5" width="6" height="2" fill="#fff" stroke="#d23d38" stroke-width="1"/>
<rect x="631" y="338" width="1" height="14" fill="#d23d38"/>
<rect x="631" y="355" width="1" height="4" fill="#d23d38"/>
<rect x="628.5" y="352.5" width="6" height="2" fill="#fff" stroke="#d23d38" stroke-width="1"/>
<rect x="639" y="333" width="1" height="36" fill="#5fa55b"/>
<rect x="636" y="352" width="7" height="14" fill="#5fa55b"/>
<rect x="647" y="316" width="1" height="4" fill="#d23d38"/>
<rect x="644.5" y="320.5" width="6" height="48" fill="#fff" stroke="#d23d38" stroke-width="1"/>
<rect x="655" y="290" width="1" height="42" fill="#d23d38"/>
<rect x="652" y="320" width="7" height="1" fill="#d23d38"/>
<rect x="663" y="310" width="1" height="30" fill="#5fa55b"/>
<rect x="660" y="319" width="7" height="9" fill="#5fa55b"/>
<rect x="671" y="309" width="1" height="25" fill="#d23d38"/>
<rect x="668" y="325" width="7" height="2" fill="#d23d38"/>
<rect x="679" y="280" width="1" height="20" fill="#d23d38"/>
<rect x="679" y="326" width="1" height="6" fill="#d23d38"/>
<rect x="676.5" y="300.5" width="6" height="25" fill="#fff" stroke="#d23d38" stroke-width="1"/>
<rect x="687" y="296" width="1" height="60" fill="#5fa55b"/>
<rect x="684" y="302" width="7" height="20" fill="#5fa55b"/>
<rect x="695" y="285" width="1" height="36" fill="#d23d38"/>
<rect x="695" y="324" width="1" height="17" fill="#d23d38"/>
<rect x="692.5" y="321.5" width="6" height="2" fill="#fff" stroke="#d23d38" stroke-width="1"/>
<rect x="703" y="312" width="1" height="10" fill="#d23d38"/>
<rect x="703" y="325" width="1" height="6" fill="#d23d38"/>
<rect x="700.5" y="322.5" width="6" height="2" fill="#fff" stroke="#d23d38" stroke-width="1"/>
<rect x="711" y="269" width="1" height="11" fill="#d23d38"/>
<rect x="708.5" y="280.5" width="6" height="42" fill="#fff" stroke="#d23d38" stroke-width="1"/>
<rect x="719" y="245" width="1" height="4" fill="#d23d38"/>
<rect x="719" y="280" width="1" height="1" fill="#d23d38"/>
<rect x="716.5" y="249.5" width="6" height="30" fill="#fff" stroke="#d23d38" stroke-width="1"/>
<rect x="727" y="240" width="1" height="7" fill="#d23d38"/>
<rect x="727" y="253" width="1" height="4" fill="#d23d38"/>
<rect x="724.5" y="247.5" width="6" height="5" fill="#fff" stroke="#d23d38" stroke-width="1"/>
</g>
<polyline points="87.4,264.0 104.7,270.1 124.4,275.1 141.7,277.6 154.0,277.8 178.8,276.2 200.0,275.2 225.0,274.3 240.0,275.6 255.0,278.5 265.0,278.0 280.0,275.0 290.0,273.3 300.0,271.5 320.0,271.1 340.0,270.7 355.0,271.7 365.0,273.5 375.0,277.6 390.0,280.9 400.0,283.7 410.0,287.8 424.9,293.9 434.6,297.7 445.9,305.2 457.8,311.1 472.8,317.6 486.2,322.7 496.7,325.3 508.7,331.3 530.0,343.8 550.0,358.1 560.0,362.6 575.0,370.4 590.0,374.7 600.0,379.0 615.0,380.6 630.0,382.5 640.0,383.5 670.0,387.7 688.0,388.7 700.0,386.6 727.0,382.5" fill="none" stroke="#000" stroke-width="1" shape-rendering="crispEdges"/>
<polyline points="87.1,491.4 143.3,474.9 193.9,461.0 231.9,452.7 257.2,443.8 290.0,434.0 300.0,431.1 320.0,425.9 340.0,418.0 370.0,407.8 400.0,397.7 440.0,387.6 480.0,377.2 510.0,370.8 520.0,367.6 560.0,361.6 600.0,353.5 640.0,346.5 680.0,338.9 727.0,331.4" fill="none" stroke="#ff00ff" stroke-width="1" shape-rendering="crispEdges"/>
<path d="M83,246.5 H867" stroke="#0f7bff" stroke-dasharray="3 3" fill="none" shape-rendering="crispEdges"/>
<g shape-rendering="crispEdges" fill="#000"><rect x="165" y="138" width="7" height="1"/><rect x="167" y="136" width="1" height="4"/></g>
<g shape-rendering="crispEdges" fill="#000"><rect x="437" y="515" width="7" height="1"/><rect x="439" y="513" width="1" height="4"/></g>
<g shape-rendering="crispEdges" fill="#000"><rect x="725" y="239" width="7" height="1"/><rect x="727" y="237" width="1" height="4"/></g>
<text x="172.20" y="134.80" font-family="'Liberation Sans', sans-serif" font-size="12" fill="#d63f3a" text-anchor="start" font-weight="bold" textLength="37.7" lengthAdjust="spacingAndGlyphs" >1.3726</text>
<text x="444.30" y="526.60" font-family="'Liberation Sans', sans-serif" font-size="12" fill="#62a85a" text-anchor="start" font-weight="bold" textLength="37.7" lengthAdjust="spacingAndGlyphs" >1.3009</text>
<text x="732.00" y="235.70" font-family="'Liberation Sans', sans-serif" font-size="12" fill="#d63f3a" text-anchor="start" font-weight="bold" textLength="37.7" lengthAdjust="spacingAndGlyphs" >1.3533</text>
<text x="84.00" y="34.76" font-family="'Liberation Sans', 'Noto Sans CJK SC', sans-serif" font-size="12" fill="#000" text-anchor="start" font-weight="500">英镑美元</text>
<text x="130.40" y="34.76" font-family="'Liberation Sans', 'Noto Sans CJK SC', sans-serif" font-size="12" fill="#ff7400" text-anchor="start">【</text>
<text x="142.50" y="34.76" font-family="'Liberation Sans', 'Noto Sans CJK SC', sans-serif" font-size="12" fill="#ff7400" text-anchor="start">日</text>
<text x="153.60" y="34.76" font-family="'Liberation Sans', 'Noto Sans CJK SC', sans-serif" font-size="12" fill="#ff7400" text-anchor="start">线</text>
<text x="169.40" y="34.76" font-family="'Liberation Sans', 'Noto Sans CJK SC', sans-serif" font-size="12" fill="#ff7400" text-anchor="start">】</text>
<circle cx="184.6" cy="32" r="4.3" fill="none" stroke="#ff7a00" stroke-width="1"/><path d="M180.3,32 H188.9 M184.6,27.7 V36.3" stroke="#ff7a00" stroke-width="1" fill="none"/>
<rect x="197.8" y="22.9" width="11" height="11" fill="#fff" stroke="#0a0a8a" stroke-width="1.3"/>
<path d="M199,28.5 L201.5,25.5 L203.6,28 L207.5,24.6" stroke="#f01818" stroke-width="1.1" fill="none"/>
<path d="M199,32 L201.5,29.2 L203.6,31.5 L207.5,28.4" stroke="#1030e0" stroke-width="1.1" fill="none"/>
<text x="212.00" y="34.60" font-family="'Liberation Sans', sans-serif" font-size="12" fill="#000" text-anchor="start" font-weight="normal" textLength="92.0" lengthAdjust="spacingAndGlyphs" >MA1(50,0,200,0)</text>
<text x="309.00" y="34.60" font-family="'Liberation Sans', sans-serif" font-size="12" fill="#000" text-anchor="start" font-weight="normal" textLength="74.0" lengthAdjust="spacingAndGlyphs" >MA50:1.3262</text>
<text x="392.00" y="34.60" font-family="'Liberation Sans', sans-serif" font-size="12" fill="#0000b8" text-anchor="start" font-weight="normal" textLength="68.0" lengthAdjust="spacingAndGlyphs" >MA0:1.3520</text>
<text x="468.00" y="34.60" font-family="'Liberation Sans', sans-serif" font-size="12" fill="#ff00ff" text-anchor="start" font-weight="normal" textLength="82.0" lengthAdjust="spacingAndGlyphs" >MA200:1.3358</text>
<text x="558.50" y="34.60" font-family="'Liberation Sans', sans-serif" font-size="12" fill="#ff7a00" text-anchor="start" font-weight="normal" textLength="67.5" lengthAdjust="spacingAndGlyphs" >MA0:1.3520</text>
<g shape-rendering="crispEdges">
<rect x="87" y="821" width="1" height="30" fill="#5fa55b"/>
<rect x="95" y="821" width="1" height="31" fill="#5fa55b"/>
<rect x="103" y="821" width="1" height="13" fill="#5fa55b"/>
<rect x="111" y="815" width="1" height="6" fill="#d23d38"/>
<rect x="119" y="808" width="1" height="13" fill="#d23d38"/>
<rect x="127" y="807" width="1" height="14" fill="#d23d38"/>
<rect x="135" y="798" width="1" height="23" fill="#d23d38"/>
<rect x="143" y="799" width="1" height="22" fill="#d23d38"/>
<rect x="151" y="794" width="1" height="27" fill="#d23d38"/>
<rect x="159" y="782" width="1" height="39" fill="#d23d38"/>
<rect x="167" y="786" width="1" height="35" fill="#d23d38"/>
<rect x="175" y="809" width="1" height="12" fill="#d23d38"/>
<rect x="183" y="821" width="1" height="24" fill="#5fa55b"/>
<rect x="191" y="821" width="1" height="31" fill="#5fa55b"/>
<rect x="199" y="821" width="1" height="31" fill="#5fa55b"/>
<rect x="207" y="821" width="1" height="47" fill="#5fa55b"/>
<rect x="215" y="821" width="1" height="77" fill="#5fa55b"/>
<rect x="223" y="821" width="1" height="71" fill="#5fa55b"/>
<rect x="231" y="821" width="1" height="56" fill="#5fa55b"/>
<rect x="239" y="821" width="1" height="39" fill="#5fa55b"/>
<rect x="247" y="821" width="1" height="18" fill="#5fa55b"/>
<rect x="255" y="821" width="1" height="13" fill="#5fa55b"/>
<rect x="263" y="819" width="1" height="2" fill="#d23d38"/>
<rect x="271" y="809" width="1" height="12" fill="#d23d38"/>
<rect x="279" y="819" width="1" height="2" fill="#d23d38"/>
<rect x="287" y="821" width="1" height="7" fill="#5fa55b"/>
<rect x="295" y="821" width="1" height="33" fill="#5fa55b"/>
<rect x="303" y="821" width="1" height="33" fill="#5fa55b"/>
<rect x="311" y="821" width="1" height="31" fill="#5fa55b"/>
<rect x="319" y="821" width="1" height="31" fill="#5fa55b"/>
<rect x="327" y="821" width="1" height="7" fill="#5fa55b"/>
<rect x="335" y="804" width="1" height="17" fill="#d23d38"/>
<rect x="343" y="794" width="1" height="27" fill="#d23d38"/>
<rect x="351" y="793" width="1" height="28" fill="#d23d38"/>
<rect x="359" y="803" width="1" height="18" fill="#d23d38"/>
<rect x="367" y="812" width="1" height="9" fill="#d23d38"/>
<rect x="375" y="821" width="1" height="3" fill="#5fa55b"/>
<rect x="383" y="821" width="1" height="11" fill="#5fa55b"/>
<rect x="391" y="821" width="1" height="8" fill="#5fa55b"/>
<rect x="399" y="821" width="1" height="19" fill="#5fa55b"/>
<rect x="407" y="821" width="1" height="39" fill="#5fa55b"/>
<rect x="415" y="821" width="1" height="57" fill="#5fa55b"/>
<rect x="423" y="821" width="1" height="58" fill="#5fa55b"/>
<rect x="431" y="821" width="1" height="53" fill="#5fa55b"/>
<rect x="439" y="821" width="1" height="71" fill="#5fa55b"/>
<rect x="447" y="821" width="1" height="64" fill="#5fa55b"/>
<rect x="455" y="821" width="1" height="31" fill="#5fa55b"/>
<rect x="463" y="821" width="1" height="2" fill="#5fa55b"/>
<rect x="471" y="799" width="1" height="22" fill="#d23d38"/>
<rect x="479" y="791" width="1" height="30" fill="#d23d38"/>
<rect x="487" y="790" width="1" height="31" fill="#d23d38"/>
<rect x="495" y="775" width="1" height="46" fill="#d23d38"/>
<rect x="503" y="773" width="1" height="48" fill="#d23d38"/>
<rect x="511" y="778" width="1" height="43" fill="#d23d38"/>
<rect x="519" y="785" width="1" height="36" fill="#d23d38"/>
<rect x="527" y="810" width="1" height="11" fill="#d23d38"/>
<rect x="535" y="819" width="1" height="2" fill="#d23d38"/>
<rect x="543" y="815" width="1" height="6" fill="#d23d38"/>
<rect x="551" y="811" width="1" height="10" fill="#d23d38"/>
<rect x="559" y="793" width="1" height="28" fill="#d23d38"/>
<rect x="567" y="767" width="1" height="54" fill="#d23d38"/>
<rect x="575" y="757" width="1" height="64" fill="#d23d38"/>
<rect x="583" y="757" width="1" height="64" fill="#d23d38"/>
<rect x="591" y="768" width="1" height="53" fill="#d23d38"/>
<rect x="599" y="779" width="1" height="42" fill="#d23d38"/>
<rect x="607" y="756" width="1" height="65" fill="#d23d38"/>
<rect x="615" y="757" width="1" height="64" fill="#d23d38"/>
<rect x="623" y="764" width="1" height="57" fill="#d23d38"/>
<rect x="631" y="775" width="1" height="46" fill="#d23d38"/>
<rect x="639" y="793" width="1" height="28" fill="#d23d38"/>
<rect x="647" y="786" width="1" height="35" fill="#d23d38"/>
<rect x="655" y="788" width="1" height="33" fill="#d23d38"/>
<rect x="663" y="798" width="1" height="23" fill="#d23d38"/>
<rect x="671" y="806" width="1" height="15" fill="#d23d38"/>
<rect x="679" y="803" width="1" height="18" fill="#d23d38"/>
<rect x="687" y="816" width="1" height="5" fill="#d23d38"/>
<rect x="695" y="821" width="1" height="5" fill="#5fa55b"/>
<rect x="703" y="821" width="1" height="11" fill="#5fa55b"/>
<rect x="711" y="819" width="1" height="2" fill="#d23d38"/>
<rect x="719" y="801" width="1" height="20" fill="#d23d38"/>
<rect x="727" y="795" width="1" height="26" fill="#d23d38"/>
</g>
<polyline points="87.5,810.3 95.5,814.6 103.5,815.8 111.5,814.6 119.5,813.3 127.5,811.3 135.5,808.2 143.5,805.2 151.5,801.9 159.5,796.8 167.5,792.5 175.5,791.0 183.5,794.3 191.5,798.1 199.5,801.9 207.5,807.0 215.5,816.3 223.5,825.9 231.5,832.8 239.5,836.8 247.5,839.1 255.5,841.1 263.5,841.1 271.5,839.1 279.5,839.1 287.5,840.4 295.5,844.2 303.5,849.0 311.5,853.0 319.5,856.6 327.5,856.1 335.5,854.1 343.5,850.5 351.5,847.2 359.5,845.2 367.5,844.2 375.5,844.7 383.5,845.4 391.5,846.5 399.5,849.7 407.5,854.8 415.5,861.1 423.5,867.5 431.5,875.1 439.5,884.4 447.5,891.5 455.5,894.6 463.5,894.1 471.5,891.0 479.5,887.7 487.5,883.4 495.5,877.6 503.5,872.2 511.5,867.1 519.5,862.4 527.5,861.0 535.5,860.7 543.5,859.6 551.5,858.0 559.5,854.6 567.5,847.7 575.5,839.4 583.5,831.2 591.5,825.6 599.5,820.1 607.5,811.8 615.5,803.5 623.5,796.6 631.5,791.1 639.5,788.3 647.5,783.6 655.5,779.2 663.5,776.5 671.5,774.5 679.5,772.6 687.5,771.2 695.5,771.8 703.5,773.1 711.5,773.1 719.5,770.4 727.5,767.6" fill="none" stroke="#00009c" stroke-width="1" shape-rendering="crispEdges"/>
<polyline points="87.5,825.4 95.5,829.0 103.5,820.9 111.5,810.8 119.5,805.7 127.5,803.9 135.5,796.3 143.5,793.5 151.5,788.0 159.5,776.6 167.5,775.3 175.5,785.4 183.5,807.0 191.5,812.8 199.5,817.1 207.5,831.0 215.5,856.3 223.5,861.4 231.5,860.1 239.5,856.3 247.5,848.7 255.5,847.0 263.5,839.9 271.5,833.0 279.5,837.3 287.5,843.7 295.5,859.9 303.5,863.2 311.5,867.5 319.5,871.3 327.5,857.3 335.5,844.7 343.5,836.3 351.5,833.3 359.5,836.3 367.5,838.9 375.5,844.2 383.5,850.5 391.5,849.0 399.5,857.3 407.5,873.8 415.5,887.7 423.5,895.8 431.5,900.4 439.5,918.1 447.5,921.4 455.5,910.5 463.5,894.1 471.5,878.9 479.5,872.0 487.5,868.2 495.5,853.5 503.5,847.5 511.5,845.0 519.5,844.4 527.5,855.5 535.5,860.7 543.5,856.6 551.5,852.7 559.5,842.2 567.5,821.5 575.5,807.7 583.5,800.0 591.5,798.8 599.5,798.8 607.5,781.4 615.5,771.8 623.5,768.2 631.5,768.5 639.5,773.1 647.5,766.8 655.5,763.5 663.5,764.3 671.5,767.6 679.5,763.5 687.5,768.2 695.5,774.5 703.5,779.2 711.5,773.1 719.5,760.7 727.5,755.2" fill="none" stroke="#000" stroke-width="1" shape-rendering="crispEdges"/>
<g transform="translate(21 674)">
<path d="M-1.7,-3.5 H1.7 L3.5,-1.7 V1.7 L1.7,3.5 H-1.7 L-3.5,1.7 V-1.7 Z" fill="#fff" stroke="#000" stroke-width="1"/>
<circle cx="0" cy="0" r="1.9" fill="#f00"/>
<path d="M-0.5,-7 V-5 M-0.5,5 V7 M-7,-0.5 H-5 M5,-0.5 H7" stroke="#f00" stroke-width="1" fill="none" shape-rendering="crispEdges"/>
<path d="M-5.8,-5.8 L-4,-4 M5.8,-5.8 L4,-4 M-5.8,5.8 L-4,4 M5.8,5.8 L4,4" stroke="#f00" stroke-width="1.2" fill="none"/>
</g>
<text x="84.80" y="680.50" font-family="'Liberation Sans', sans-serif" font-size="12" fill="#000" text-anchor="start" font-weight="normal" textLength="78.0" lengthAdjust="spacingAndGlyphs" >MACD(13,8,9)</text>
<text x="167.30" y="680.50" font-family="'Liberation Sans', sans-serif" font-size="12" fill="#000" text-anchor="start" font-weight="normal" textLength="64.8" lengthAdjust="spacingAndGlyphs" >DIFF:0.0037</text>
<text x="242.00" y="680.50" font-family="'Liberation Sans', sans-serif" font-size="12" fill="#00009c" text-anchor="start" font-weight="normal" textLength="63.3" lengthAdjust="spacingAndGlyphs" >DEA:0.0029</text>
<text x="314.90" y="680.50" font-family="'Liberation Sans', sans-serif" font-size="12" fill="#ff00ff" text-anchor="start" font-weight="normal" textLength="77.3" lengthAdjust="spacingAndGlyphs" >MACD:0.0014</text>
<text x="249.30" y="935.20" font-family="'Liberation Sans', sans-serif" font-size="12" fill="#1c2038" text-anchor="start" font-weight="bold" textLength="44.0" lengthAdjust="spacingAndGlyphs" >2025/10</text>
<text x="433.20" y="935.20" font-family="'Liberation Sans', sans-serif" font-size="12" fill="#1c2038" text-anchor="start" font-weight="bold" textLength="43.6" lengthAdjust="spacingAndGlyphs" >2025/11</text>
<text x="593.80" y="935.20" font-family="'Liberation Sans', sans-serif" font-size="12" fill="#1c2038" text-anchor="start" font-weight="bold" textLength="44.0" lengthAdjust="spacingAndGlyphs" >2025/12</text>
<g shape-rendering="crispEdges" fill="#cfd8e2"><rect x="247" y="923" width="1" height="5"/><rect x="431" y="923" width="1" height="5"/><rect x="591" y="923" width="1" height="5"/></g>
<rect x="12.5" y="922.5" width="69" height="18" fill="#fff" stroke="#cfd6de" stroke-width="1" shape-rendering="crispEdges"/>
<text x="26.50" y="936.44" font-family="'Liberation Sans', 'Noto Sans CJK SC', sans-serif" font-size="13" fill="#ff7a00" text-anchor="start" font-weight="bold">日线</text>
<path d="M56.8,936.8 L61,928.8 L65.2,936.8 Z" fill="#ff7a00"/>
<g shape-rendering="crispEdges">
<rect x="12" y="942" width="564" height="1" fill="#d3d9e0"/>
<rect x="12" y="943" width="39" height="14" fill="#ff6600"/>
<rect x="51" y="943" width="1" height="14" fill="#d3d9e0"/>
<rect x="90" y="943" width="1" height="14" fill="#d3d9e0"/>
<rect x="149" y="943" width="1" height="14" fill="#d3d9e0"/>
<rect x="177" y="943" width="1" height="14" fill="#d3d9e0"/>
<rect x="217" y="943" width="1" height="14" fill="#d3d9e0"/>
<rect x="257" y="943" width="1" height="14" fill="#d3d9e0"/>
<rect x="292" y="943" width="1" height="14" fill="#d3d9e0"/>
<rect x="331" y="943" width="1" height="14" fill="#d3d9e0"/>
<rect x="365" y="943" width="1" height="14" fill="#d3d9e0"/>
<rect x="399" y="943" width="1" height="14" fill="#d3d9e0"/>
<rect x="439" y="943" width="1" height="14" fill="#d3d9e0"/>
<rect x="473" y="943" width="1" height="14" fill="#d3d9e0"/>
<rect x="501" y="943" width="1" height="14" fill="#d3d9e0"/>
<rect x="535" y="943" width="1" height="14" fill="#d3d9e0"/>
<rect x="575" y="943" width="1" height="14" fill="#d3d9e0"/>
<rect x="11" y="943" width="1" height="14" fill="#d3d9e0"/>
</g>
<text x="19.00" y="955.20" font-family="'Liberation Sans', 'Noto Sans CJK SC', sans-serif" font-size="12.5" fill="#fff" text-anchor="start">指标</text>
<text x="59.30" y="955.20" font-family="'Liberation Sans', 'Noto Sans CJK SC', sans-serif" font-size="12.5" fill="#111" text-anchor="start">模板</text>
<text x="100.00" y="954.20" font-family="'Liberation Serif', sans-serif" font-size="11" fill="#ff7a00" text-anchor="start" font-weight="normal" textLength="18.5" lengthAdjust="spacingAndGlyphs" >VIP</text>
<text x="120.00" y="955.20" font-family="'Liberation Sans', 'Noto Sans CJK SC', sans-serif" font-size="12.5" fill="#ff7a00" text-anchor="start">指标</text>
<text x="157.50" y="954.00" font-family="'Liberation Serif', sans-serif" font-size="11" fill="#222" text-anchor="start" font-weight="normal" textLength="11.5" lengthAdjust="spacingAndGlyphs" >MA</text>
<text x="185.50" y="954.00" font-family="'Liberation Serif', sans-serif" font-size="11" fill="#222" text-anchor="start" font-weight="normal" textLength="23.5" lengthAdjust="spacingAndGlyphs" >MACD</text>
<text x="225.50" y="954.00" font-family="'Liberation Serif', sans-serif" font-size="11" fill="#222" text-anchor="start" font-weight="normal" textLength="23.5" lengthAdjust="spacingAndGlyphs" >BOLL</text>
<text x="266.00" y="954.00" font-family="'Liberation Serif', sans-serif" font-size="11" fill="#222" text-anchor="start" font-weight="normal" textLength="17.5" lengthAdjust="spacingAndGlyphs" >VOL</text>
<text x="300.00" y="954.00" font-family="'Liberation Serif', sans-serif" font-size="11" fill="#222" text-anchor="start" font-weight="normal" textLength="23.5" lengthAdjust="spacingAndGlyphs" >BIAS</text>
<text x="339.50" y="954.00" font-family="'Liberation Serif', sans-serif" font-size="11" fill="#222" text-anchor="start" font-weight="normal" textLength="17.5" lengthAdjust="spacingAndGlyphs" >CCI</text>
<text x="373.50" y="954.00" font-family="'Liberation Serif', sans-serif" font-size="11" fill="#222" text-anchor="start" font-weight="normal" textLength="17.5" lengthAdjust="spacingAndGlyphs" >KDJ</text>
<text x="409.50" y="954.00" font-family="'Liberation Serif', sans-serif" font-size="11" fill="#222" text-anchor="start" font-weight="normal" textLength="17.5" lengthAdjust="spacingAndGlyphs" >LW&amp;</text>
<text x="447.50" y="954.00" font-family="'Liberation Serif', sans-serif" font-size="11" fill="#222" text-anchor="start" font-weight="normal" textLength="17.5" lengthAdjust="spacingAndGlyphs" >RSI</text>
<text x="481.50" y="954.00" font-family="'Liberation Serif', sans-serif" font-size="11" fill="#222" text-anchor="start" font-weight="normal" textLength="11.5" lengthAdjust="spacingAndGlyphs" >CR</text>
<text x="509.00" y="954.00" font-family="'Liberation Serif', sans-serif" font-size="11" fill="#222" text-anchor="start" font-weight="normal" textLength="17.5" lengthAdjust="spacingAndGlyphs" >PSY</text>
<text x="543.00" y="955.20" font-family="'Liberation Sans', 'Noto Sans CJK SC', sans-serif" font-size="12.5" fill="#111" text-anchor="start">设置</text>
<rect x="0" y="959" width="869" height="13" fill="#f3f3f3"/>
<rect x="0" y="959" width="869" height="8" fill="#fff"/>
<rect x="0" y="968" width="38" height="4" fill="#f0f0f0"/>
<rect x="38" y="968" width="1" height="4" fill="#d9dde2"/>
<rect x="39" y="968" width="830" height="4" fill="#fff"/>
<rect x="734" y="961" width="135" height="6" fill="#b5b5b9"/>
<path d="M812.5,966.5 L824,961 L835.5,966.5 Z" fill="#55565a"/>
<text x="739.1 759.1 781.5 802.7 821.4" y="947.6" font-family="'Liberation Sans', sans-serif" font-size="31" fill="#9c8276" opacity="0.7" transform="translate(1.4 1.5)">FX678</text>
<text x="739.1 759.1 781.5 802.7 821.4" y="947.6" font-family="'Liberation Sans', sans-serif" font-size="31" fill="#dbe8f7">FX678</text>
</svg>
</body></html>
